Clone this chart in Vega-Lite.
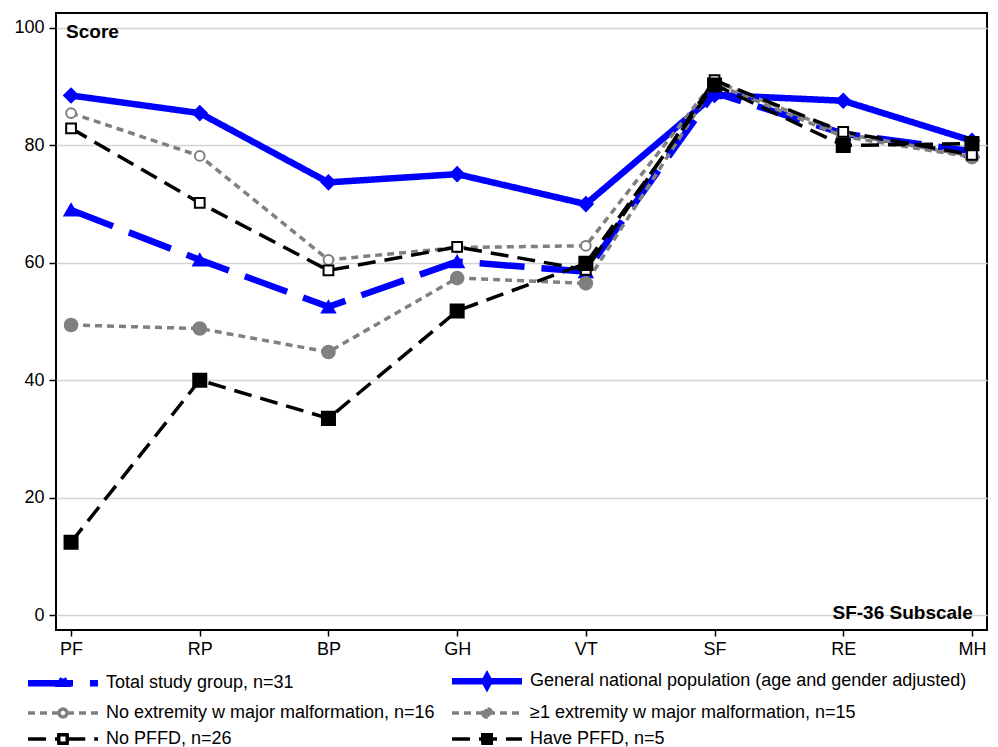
{
  "$schema": "https://vega.github.io/schema/vega-lite/v6.json",
  "width": 931,
  "height": 617,
  "autosize": "none",
  "padding": {"left": 56, "top": 13, "right": 11, "bottom": 117},
  "background": "white",
  "config": {
    "font": "Liberation Sans",
    "view": {"stroke": "black", "strokeWidth": 2},
    "axis": {"labelFont": "Liberation Sans", "labelFontSize": 18, "labelColor": "black", "tickColor": "black", "tickWidth": 1.5, "domain": false, "title": null}
  },
  "datasets": {
    "scores": [
      {"subscale": "PF", "series": "General national population (age and gender adjusted)", "score": 88.5},
      {"subscale": "RP", "series": "General national population (age and gender adjusted)", "score": 85.5},
      {"subscale": "BP", "series": "General national population (age and gender adjusted)", "score": 73.7},
      {"subscale": "GH", "series": "General national population (age and gender adjusted)", "score": 75.1},
      {"subscale": "VT", "series": "General national population (age and gender adjusted)", "score": 70.0},
      {"subscale": "SF", "series": "General national population (age and gender adjusted)", "score": 88.6},
      {"subscale": "RE", "series": "General national population (age and gender adjusted)", "score": 87.6},
      {"subscale": "MH", "series": "General national population (age and gender adjusted)", "score": 80.8},
      {"subscale": "PF", "series": "Total study group, n=31", "score": 69.0},
      {"subscale": "RP", "series": "Total study group, n=31", "score": 60.5},
      {"subscale": "BP", "series": "Total study group, n=31", "score": 52.5},
      {"subscale": "GH", "series": "Total study group, n=31", "score": 60.2},
      {"subscale": "VT", "series": "Total study group, n=31", "score": 58.5},
      {"subscale": "SF", "series": "Total study group, n=31", "score": 89.0},
      {"subscale": "RE", "series": "Total study group, n=31", "score": 82.0},
      {"subscale": "MH", "series": "Total study group, n=31", "score": 79.0},
      {"subscale": "PF", "series": "No extremity w major malformation, n=16", "score": 85.5},
      {"subscale": "RP", "series": "No extremity w major malformation, n=16", "score": 78.2},
      {"subscale": "BP", "series": "No extremity w major malformation, n=16", "score": 60.5},
      {"subscale": "GH", "series": "No extremity w major malformation, n=16", "score": 62.6},
      {"subscale": "VT", "series": "No extremity w major malformation, n=16", "score": 62.9},
      {"subscale": "SF", "series": "No extremity w major malformation, n=16", "score": 91.0},
      {"subscale": "RE", "series": "No extremity w major malformation, n=16", "score": 82.0},
      {"subscale": "MH", "series": "No extremity w major malformation, n=16", "score": 78.2},
      {"subscale": "PF", "series": "≥1 extremity w major malformation, n=15", "score": 49.4},
      {"subscale": "RP", "series": "≥1 extremity w major malformation, n=15", "score": 48.8},
      {"subscale": "BP", "series": "≥1 extremity w major malformation, n=15", "score": 44.8},
      {"subscale": "GH", "series": "≥1 extremity w major malformation, n=15", "score": 57.4},
      {"subscale": "VT", "series": "≥1 extremity w major malformation, n=15", "score": 56.5},
      {"subscale": "SF", "series": "≥1 extremity w major malformation, n=15", "score": 90.5},
      {"subscale": "RE", "series": "≥1 extremity w major malformation, n=15", "score": 81.5},
      {"subscale": "MH", "series": "≥1 extremity w major malformation, n=15", "score": 78.0},
      {"subscale": "PF", "series": "No PFFD, n=26", "score": 82.9},
      {"subscale": "RP", "series": "No PFFD, n=26", "score": 70.2},
      {"subscale": "BP", "series": "No PFFD, n=26", "score": 58.7},
      {"subscale": "GH", "series": "No PFFD, n=26", "score": 62.7},
      {"subscale": "VT", "series": "No PFFD, n=26", "score": 58.8},
      {"subscale": "SF", "series": "No PFFD, n=26", "score": 91.1},
      {"subscale": "RE", "series": "No PFFD, n=26", "score": 82.3},
      {"subscale": "MH", "series": "No PFFD, n=26", "score": 78.4},
      {"subscale": "PF", "series": "Have PFFD, n=5", "score": 12.4},
      {"subscale": "RP", "series": "Have PFFD, n=5", "score": 40.0},
      {"subscale": "BP", "series": "Have PFFD, n=5", "score": 33.5},
      {"subscale": "GH", "series": "Have PFFD, n=5", "score": 51.8},
      {"subscale": "VT", "series": "Have PFFD, n=5", "score": 59.9},
      {"subscale": "SF", "series": "Have PFFD, n=5", "score": 90.3},
      {"subscale": "RE", "series": "Have PFFD, n=5", "score": 80.0},
      {"subscale": "MH", "series": "Have PFFD, n=5", "score": 80.3}
    ],
    "notes": [
      {"subscale": "PF", "score": 100, "label": "Score"}
    ],
    "notes2": [
      {"subscale": "MH", "score": 0, "label": "SF-36 Subscale"}
    ]
  },
  "layer": [
    {
      "data": {"name": "scores"},
      "mark": {"type": "line", "strokeCap": "butt", "strokeJoin": "miter"},
      "encoding": {
        "x": {"field": "subscale", "type": "ordinal", "sort": ["PF", "RP", "BP", "GH", "VT", "SF", "RE", "MH"],
              "scale": {"type": "point", "padding": 0.117},
              "axis": {"labelAngle": 0, "tickSize": 6, "labelPadding": 4, "grid": false, "title": null}},
        "y": {"field": "score", "type": "quantitative",
              "scale": {"domain": [-2.55, 102.55], "nice": false, "zero": false},
              "axis": {"values": [0, 20, 40, 60, 80, 100], "tickSize": 7, "labelPadding": 5, "grid": true, "gridColor": "#d4d4d4", "gridWidth": 1.5, "title": null}},
        "color": {"field": "series", "type": "nominal",
          "scale": {
            "domain": ["Total study group, n=31", "General national population (age and gender adjusted)", "No extremity w major malformation, n=16", "≥1 extremity w major malformation, n=15", "No PFFD, n=26", "Have PFFD, n=5"],
            "range": ["#0000ff", "#0000ff", "#808080", "#808080", "#000000", "#000000"]
          },
          "legend": {
            "title": null,
            "orient": "none",
            "legendX": -32,
            "legendY": 659,
            "columns": 2,
            "direction": "horizontal",
            "padding": 0,
            "symbolSize": 100,
            "labelFont": "Liberation Sans",
            "labelFontSize": 18,
            "labelColor": "black",
            "labelLimit": 0,
            "labelOffset": 64,
            "rowPadding": 0,
            "columnPadding": 4,
            "encode": {
              "symbols": {
                "update": {
                  "shape": {"signal": "['M-1,0H13M6,-0.9L6.55,0.1L5.45,0.1Z','M-1,0H13M6,-0.9L6.5,0L6,0.9L5.5,0Z','M-1,0H5.2M6.8,0H13M6.8,0A0.8,0.8,0,0,1,6.566,0.566M6.566,0.566A0.8,0.8,0,0,1,6,0.8M6,0.8A0.8,0.8,0,0,1,5.434,0.566M5.434,0.566A0.8,0.8,0,0,1,5.2,0M5.2,0A0.8,0.8,0,0,1,5.434,-0.566M5.434,-0.566A0.8,0.8,0,0,1,6,-0.8M6,-0.8A0.8,0.8,0,0,1,6.566,-0.566M6.566,-0.566A0.8,0.8,0,0,1,6.8,0M6,-1.25M6,1.25','M-1,0H13M5.15,0A0.85,0.85,0,1,0,6.85,0A0.85,0.85,0,1,0,5.15,0ZM6,-1.25M6,1.25','M-1,0H5.15M6.85,0H13M4.85,-0.85H7.15M6.85,-0.85V0.85M4.85,0.85H7.15M5.15,-0.85V0.85','M-1,0H13M5.15,-0.85H6.85V0.85H5.15ZM4.85,-0.85H7.15M6.85,-0.85V0.85M4.85,0.85H7.15M5.15,-0.85V0.85'][indexof(['Total study group, n=31','General national population (age and gender adjusted)','No extremity w major malformation, n=16','≥1 extremity w major malformation, n=15','No PFFD, n=26','Have PFFD, n=5'], datum.value)]"},
                  "strokeDash": {"signal": "[[38,10],[1,0],[5,5],[5,5],[17,9],[17,9]][indexof(['Total study group, n=31','General national population (age and gender adjusted)','No extremity w major malformation, n=16','≥1 extremity w major malformation, n=15','No PFFD, n=26','Have PFFD, n=5'], datum.value)]"},
                  "strokeWidth": {"signal": "[5,5,2.5,2.5,3,3][indexof(['Total study group, n=31','General national population (age and gender adjusted)','No extremity w major malformation, n=16','≥1 extremity w major malformation, n=15','No PFFD, n=26','Have PFFD, n=5'], datum.value)]"},
                  "fill": {"signal": "['#0000ff','#0000ff','#ffffff','#808080','#ffffff','#000000'][indexof(['Total study group, n=31','General national population (age and gender adjusted)','No extremity w major malformation, n=16','≥1 extremity w major malformation, n=15','No PFFD, n=26','Have PFFD, n=5'], datum.value)]"},
                  "size": {"value": 100},
                  "opacity": {"value": 1}
                }
              }
            }
          }
        },
        "strokeDash": {"field": "series", "type": "nominal",
          "scale": {
            "domain": ["Total study group, n=31", "General national population (age and gender adjusted)", "No extremity w major malformation, n=16", "≥1 extremity w major malformation, n=15", "No PFFD, n=26", "Have PFFD, n=5"],
            "range": [[45, 17], [1, 0], [7, 5], [7, 5], [18, 9], [18, 9]]
          },
          "legend": null},
        "strokeWidth": {"field": "series", "type": "nominal",
          "scale": {
            "type": "ordinal",
            "domain": ["Total study group, n=31", "General national population (age and gender adjusted)", "No extremity w major malformation, n=16", "≥1 extremity w major malformation, n=15", "No PFFD, n=26", "Have PFFD, n=5"],
            "range": [6.5, 6.5, 3.5, 3.5, 3.5, 3.5]
          },
          "legend": null}
      }
    },
    {
      "data": {"name": "scores"},
      "transform": [{"fold": ["series"], "as": ["key", "group"]}],
      "mark": {"type": "point", "opacity": 1, "strokeWidth": 2},
      "encoding": {
        "x": {"field": "subscale", "type": "ordinal", "sort": ["PF", "RP", "BP", "GH", "VT", "SF", "RE", "MH"]},
        "y": {"field": "score", "type": "quantitative"},
        "shape": {"field": "group", "type": "nominal",
          "sort": ["Total study group, n=31", "General national population (age and gender adjusted)", "No extremity w major malformation, n=16", "≥1 extremity w major malformation, n=15", "No PFFD, n=26", "Have PFFD, n=5"],
          "scale": {"range": ["triangle-up", "diamond", "circle", "circle", "square", "square"]},
          "legend": null},
        "fill": {"field": "group", "type": "nominal",
          "sort": ["Total study group, n=31", "General national population (age and gender adjusted)", "No extremity w major malformation, n=16", "≥1 extremity w major malformation, n=15", "No PFFD, n=26", "Have PFFD, n=5"],
          "scale": {"range": ["#0000ff", "#0000ff", "#ffffff", "#808080", "#ffffff", "#000000"]},
          "legend": null},
        "stroke": {"field": "group", "type": "nominal",
          "sort": ["Total study group, n=31", "General national population (age and gender adjusted)", "No extremity w major malformation, n=16", "≥1 extremity w major malformation, n=15", "No PFFD, n=26", "Have PFFD, n=5"],
          "scale": {"range": ["#0000ff", "#0000ff", "#808080", "#808080", "#000000", "#000000"]},
          "legend": null},
        "size": {"field": "group", "type": "nominal",
          "sort": ["Total study group, n=31", "General national population (age and gender adjusted)", "No extremity w major malformation, n=16", "≥1 extremity w major malformation, n=15", "No PFFD, n=26", "Have PFFD, n=5"],
          "scale": {"type": "ordinal", "range": [170, 190, 95, 160, 95, 170]},
          "legend": null}
      }
    },
    {
      "data": {"name": "notes"},
      "mark": {"type": "text", "align": "left", "baseline": "middle", "dx": -5, "dy": 4, "font": "Liberation Sans", "fontWeight": "bold", "fontSize": 19, "color": "black"},
      "encoding": {
        "x": {"field": "subscale", "type": "ordinal", "sort": ["PF", "RP", "BP", "GH", "VT", "SF", "RE", "MH"]},
        "y": {"field": "score", "type": "quantitative"},
        "text": {"field": "label"}
      }
    },
    {
      "data": {"name": "notes2"},
      "mark": {"type": "text", "align": "right", "baseline": "middle", "dx": 1, "dy": -2, "font": "Liberation Sans", "fontWeight": "bold", "fontSize": 19, "color": "black"},
      "encoding": {
        "x": {"field": "subscale", "type": "ordinal", "sort": ["PF", "RP", "BP", "GH", "VT", "SF", "RE", "MH"]},
        "y": {"field": "score", "type": "quantitative"},
        "text": {"field": "label"}
      }
    }
  ]
}
